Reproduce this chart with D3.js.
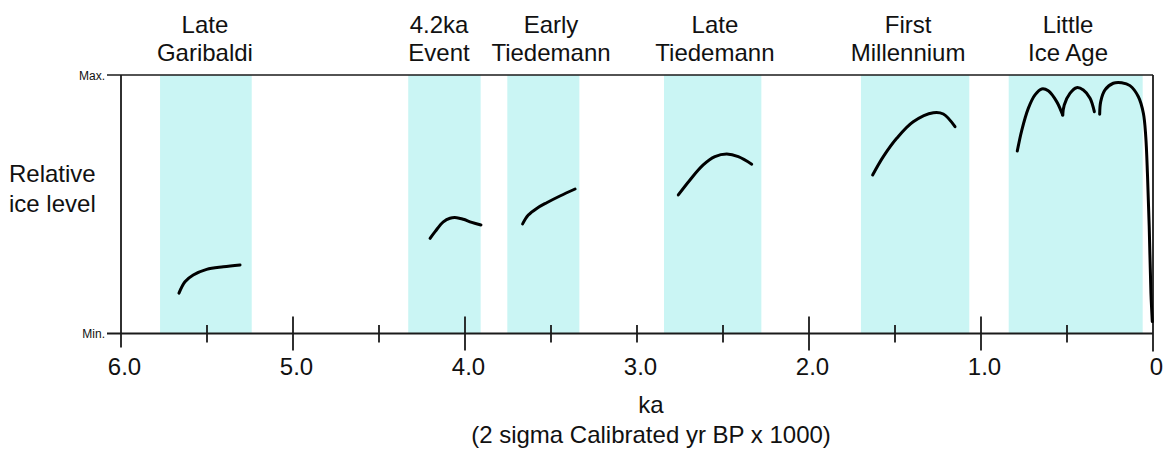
<!DOCTYPE html>
<html>
<head>
<meta charset="utf-8">
<script src="https://cdn.jsdelivr.net/npm/d3@7"></script>
<style>
  html, body { margin: 0; padding: 0; background: #fff; }
  svg { display: block; }
  text { font-family: "Liberation Sans", Arial, sans-serif; fill: #111; }
</style>
</head>
<body>
<svg id="chart" width="1168" height="455"></svg>
<script>
// ---- data ----
const bandLabels = [["Late", "Garibaldi"], ["4.2ka", "Event"], ["Early", "Tiedemann"],
                    ["Late", "Tiedemann"], ["First", "Millennium"], ["Little", "Ice Age"]];
const bandStart = [5.773, 4.330, 3.754, 2.843, 1.698, 0.839];   // ka
const bandEnd   = [5.240, 3.909, 3.335, 2.277, 1.068, 0.060];   // ka
const labelAt   = [5.512, 4.151, 3.500, 2.547, 1.424, 0.494];   // ka

const tickLabels = [6, 5, 4, 3, 2, 1, 0];
const majorTicks = [5, 4, 2, 1];
const minorTicks = [5.5, 4.5, 3.5, 3.0, 2.5, 1.5, 0.5];
const levelTicks = [0, 1];
const levelTickLabels = ["Min.", "Max."];

// relative ice level curves: [ka, level 0..1]
const curveGaribaldi = [[5.663, 0.156], [5.628, 0.200], [5.580, 0.226], [5.502, 0.248], [5.405, 0.258], [5.308, 0.265]];
const curve42ka = [[4.203, 0.368], [4.174, 0.394], [4.126, 0.432], [4.087, 0.446], [4.048, 0.448], [4.010, 0.442], [3.961, 0.430], [3.907, 0.420]];
const curveEarlyTied = [[3.665, 0.424], [3.632, 0.458], [3.583, 0.484], [3.525, 0.506], [3.448, 0.532], [3.360, 0.559]];
const curveLateTied = [[2.760, 0.536], [2.692, 0.594], [2.615, 0.652], [2.547, 0.684], [2.478, 0.694], [2.411, 0.684], [2.333, 0.655]];
const curveFirstMill = [[1.630, 0.613], [1.568, 0.684], [1.490, 0.755], [1.394, 0.819], [1.277, 0.854], [1.219, 0.849], [1.151, 0.800]];
const curveLIA1 = [[0.789, 0.706], [0.763, 0.786], [0.725, 0.871], [0.686, 0.923], [0.647, 0.946], [0.609, 0.939], [0.560, 0.897], [0.525, 0.845]];
const curveLIA2 = [[0.525, 0.845], [0.516, 0.884], [0.483, 0.929], [0.444, 0.951], [0.405, 0.942], [0.366, 0.910], [0.341, 0.858]];
const curveLIA3 = [[0.310, 0.848], [0.304, 0.897], [0.279, 0.942], [0.231, 0.968], [0.182, 0.970], [0.134, 0.959], [0.085, 0.916], [0.056, 0.852], [0.042, 0.761], [0.032, 0.613], [0.022, 0.413], [0.012, 0.157], [0.004, 0.046]];
const curves = [curveGaribaldi, curve42ka, curveEarlyTied, curveLateTied, curveFirstMill, curveLIA1, curveLIA2, curveLIA3];

// ---- layout ----
const svg = d3.select("#chart");
const x = d3.scaleLinear().domain([6, 0]).range([121, 1153]);
const y = d3.scaleLinear().domain([0, 1]).range([333.5, 75]);
const FS = 24;

// bands
svg.append("g").selectAll("rect").data(bandStart).join("rect")
  .attr("x", (d) => x(d))
  .attr("width", (d, i) => x(bandEnd[i]) - x(d))
  .attr("y", y(1))
  .attr("height", y(0) - y(1))
  .attr("fill", "#caf5f4");

// band labels
const lg = svg.append("g").attr("text-anchor", "middle").style("font-size", FS + "px");
bandLabels.forEach((lines, i) => {
  lines.forEach((t, j) => {
    lg.append("text").attr("x", x(labelAt[i])).attr("y", 33 + j * 28).text(t);
  });
});

// frame
const frame = svg.append("g").attr("stroke", "#1a1a1a").attr("fill", "none");
frame.append("line").attr("x1", 107).attr("x2", x(0)).attr("y1", y(1)).attr("y2", y(1)).attr("stroke-width", 1.6);
frame.append("line").attr("x1", 107).attr("x2", x(0)).attr("y1", y(0)).attr("y2", y(0)).attr("stroke-width", 1.8);
frame.append("line").attr("x1", x(6)).attr("x2", x(6)).attr("y1", y(1)).attr("y2", y(0) + 14).attr("stroke-width", 1.8);
frame.append("line").attr("x1", x(0)).attr("x2", x(0)).attr("y1", y(1)).attr("y2", y(0) + 18).attr("stroke-width", 1.8);

// x ticks
frame.selectAll(".major").data(majorTicks).join("line").attr("class", "major")
  .attr("x1", (d) => x(d)).attr("x2", (d) => x(d))
  .attr("y1", y(0) - 17).attr("y2", y(0) + 17).attr("stroke-width", 1.8);
frame.selectAll(".minor").data(minorTicks).join("line").attr("class", "minor")
  .attr("x1", (d) => x(d)).attr("x2", (d) => x(d))
  .attr("y1", y(0) - 8.5).attr("y2", y(0) + 9).attr("stroke-width", 1.8);

svg.append("g").attr("text-anchor", "middle").style("font-size", FS + "px")
  .selectAll("text").data(tickLabels).join("text")
  .attr("x", (d) => x(d) + 3.5).attr("y", 375)
  .text((d) => d === 0 ? "0" : d.toFixed(1));

// y tick labels
svg.append("g").attr("text-anchor", "end").style("font-size", "12px")
  .selectAll("text").data(levelTicks).join("text")
  .attr("x", 105).attr("y", (d) => y(d) + 4.5)
  .text((d, i) => levelTickLabels[i]);

// y title
const yt = svg.append("g").style("font-size", FS + "px");
yt.append("text").attr("x", 9).attr("y", 182).text("Relative");
yt.append("text").attr("x", 9).attr("y", 212).text("ice level");

// x title
const xt = svg.append("g").attr("text-anchor", "middle").style("font-size", FS + "px");
xt.append("text").attr("x", 651).attr("y", 413).text("ka");
xt.append("text").attr("x", 651).attr("y", 443).text("(2 sigma Calibrated yr BP x 1000)");

// curves
const line = d3.line().x((d) => x(d[0])).y((d) => y(d[1])).curve(d3.curveCatmullRom.alpha(0.5));
svg.append("g").selectAll("path").data(curves).join("path")
  .attr("d", line)
  .attr("fill", "none")
  .attr("stroke", "#000")
  .attr("stroke-width", 3)
  .attr("stroke-linecap", "round")
  .attr("stroke-linejoin", "round");
</script>
</body>
</html>
